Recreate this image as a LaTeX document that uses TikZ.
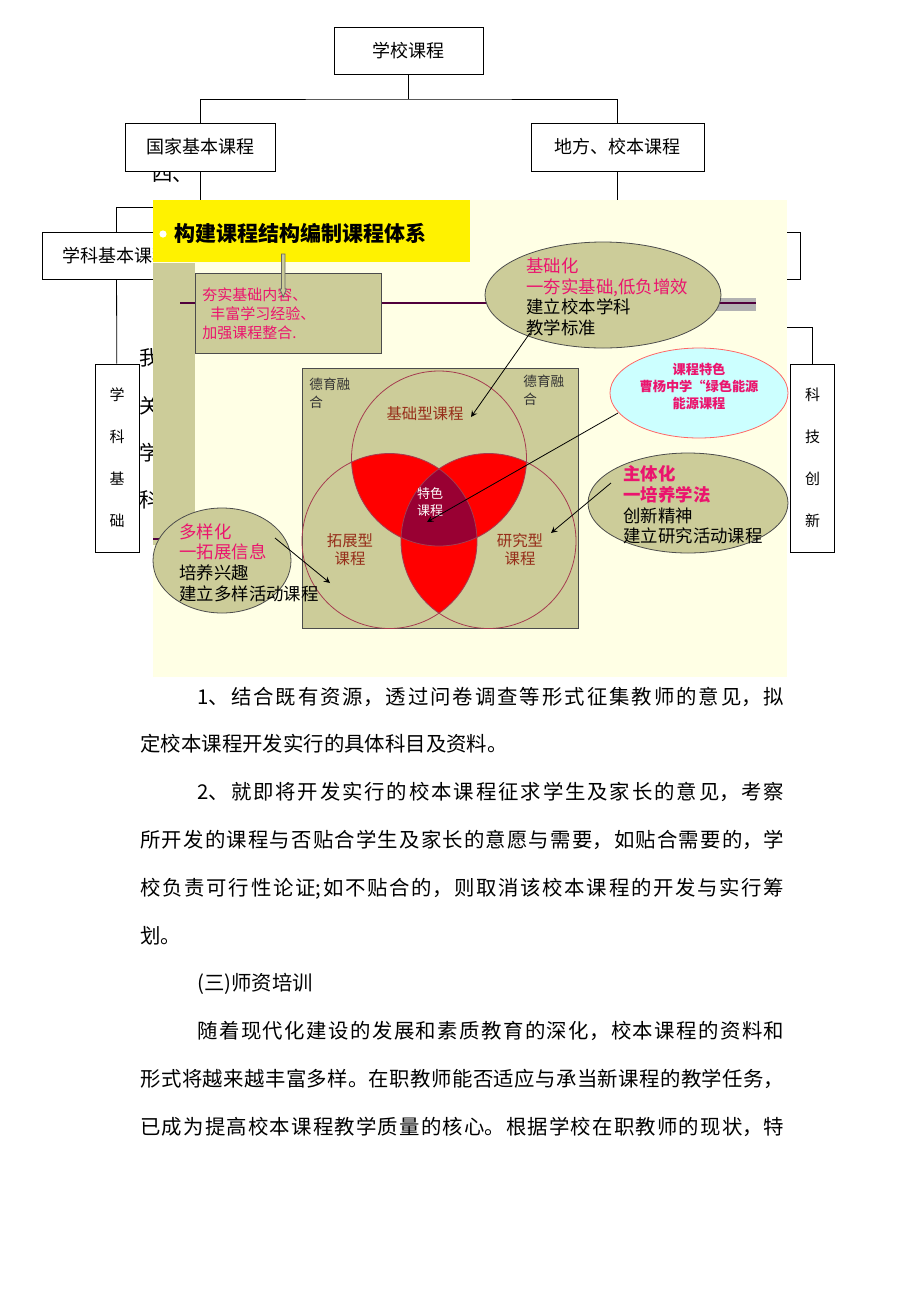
\documentclass[tikz,border=0pt]{standalone}
\usepackage{fontspec}
\setmainfont{Noto Sans CJK SC}
\XeTeXlinebreaklocale "zh"
\XeTeXlinebreakskip=0pt plus 2pt
\tolerance=9999
\usetikzlibrary{shapes.geometric}

\definecolor{khaki}{RGB}{204,204,153}
\definecolor{slidebg}{RGB}{255,255,229}
\definecolor{hotpink}{RGB}{235,20,110}
\definecolor{vennlabel}{RGB}{150,45,25}
\definecolor{ringred}{RGB}{165,60,80}
\definecolor{corered}{RGB}{153,0,51}
\definecolor{linkpurple}{RGB}{80,0,60}
\definecolor{paleblue}{RGB}{204,255,255}

\tikzset{
  treebox/.style={draw, fill=white, inner sep=0pt, font=\fontsize{9pt}{11pt}\selectfont},
  vbox/.style={draw, fill=white, inner sep=0pt, minimum width=22pt, minimum height=94pt,
    align=center, font=\fontsize{7.5pt}{21pt}\selectfont},
  bubble/.style={ellipse, draw=black!70, fill=khaki, inner sep=0pt},
  bubbletext/.style={anchor=west, inner sep=0pt, align=left, font=\fontsize{8.7pt}{10.35pt}\selectfont},
  venntext/.style={inner sep=0pt, align=center, text=vennlabel, font=\fontsize{7.7pt}{9pt}\selectfont},
  fusetext/.style={anchor=west, inner sep=0pt, align=left, text=black!80, font=\fontsize{6.8pt}{9pt}\selectfont},
  pagetext/.style={anchor=west, inner sep=0pt, font=\fontsize{10.2pt}{12pt}\selectfont},
  pointer/.style={->, >=stealth, thin},
  link/.style={linkpurple, line width=0.6pt},
}

\begin{document}
\begin{tikzpicture}[x=0.5pt, y=-0.5pt]
\useasboundingbox (0,0) rectangle (920,1302);

% page text left under the slide
\node[pagetext] (four) at (152,174) {四、};
\foreach \ch/\yy in {我/358, 关/406, 学/453, 科/500}
  \node[pagetext] (hid\yy) at (139,\yy) {\ch};

% course tree
\node[treebox, minimum width=74.5pt, minimum height=23.5pt] (school) at (408.5,50.5) {学校课程};
\node[treebox, minimum width=75pt, minimum height=24pt] (nation) at (200,147) {国家基本课程};
\node[treebox, minimum width=86.5pt, minimum height=24pt] (local) at (617.5,147) {地方、校本课程};
\node[treebox, minimum width=74.5pt, minimum height=23.5pt] (subject) at (116.5,255.5) {学科基本课程};
\node[treebox, minimum width=75pt, minimum height=23.5pt] (rightbox) at (725,255.5) {};
\node[vbox] (basis) at (117,458) {学\\科\\基\\础};
\node[vbox] (tech) at (812.5,458) {科\\技\\创\\新};

\coordinate (fork) at (408.5,99);
\coordinate (lfork) at (200,207);
\coordinate (rfork) at (617.5,207);
\coordinate (rknee) at (725,327);
\draw (school) -- (fork);
\draw (nation.north) |- (fork) -| (local.north);
\draw (nation.south) -- (lfork) -| (subject.north);
\draw (subject) -- (basis);
\draw (local.south) -- (rfork) -| (rightbox.north);
\draw (rightbox.south) -- (rknee) -| (tech.north);

% the slide
\fill[slidebg] (153,200) rectangle (787,677);
\fill[yellow] (153,200) rectangle (470,262);
\fill[khaki] (153,263) rectangle (195,545);
\fill[white] (163,234) circle (1.8pt);
\node[anchor=west, inner sep=0, font=\bfseries\fontsize{10.5pt}{12pt}\selectfont] (title) at (174,233) {构建课程结构编制课程体系};

\draw[link] (180,303) -- (196,303);
\draw[link] (380,303) -- (495,303);
\draw[link] (153,539) -- (175,539);
\fill[black!30] (700,298) rectangle (756,311);
\draw[link] (700,303) -- (756,303);

\node[draw=black!70, fill=khaki, minimum width=93pt, minimum height=40pt, inner sep=0] (basebox) at (288,313) {};
\node[anchor=west, inner sep=0, align=left, text=hotpink, font=\fontsize{7.5pt}{9.5pt}\selectfont] (basetext) at (202,314)
  {夯实基础内容、\\\hspace*{4pt}丰富学习经验、\\加强课程整合.};
\draw[draw=black!60, fill=khaki] (281.5,254) -- (281.5,289) -- (280,289) -- (283.2,297)
  -- (286.4,289) -- (285,289) -- (285,254) -- cycle;

\node[bubble, minimum width=118pt, minimum height=53pt] (basic) at (603,295) {};
\node[bubbletext] (basictext) at (526,297)
  {\textcolor{hotpink}{基础化}\\\textcolor{hotpink}{一夯实基础,低负增效}\\建立校本学科\\教学标准};

\node[ellipse, draw=red!60, fill=paleblue, minimum width=89pt, minimum height=45pt, inner sep=0] (trait) at (699,393) {};
\node[inner sep=0, align=center, text=hotpink, font=\bfseries\fontsize{6.6pt}{8.5pt}\selectfont] (traittext) at (699,386)
  {课程特色\\曹杨中学“绿色能源\\能源课程};

\node[bubble, minimum width=100pt, minimum height=50pt] (active) at (688,503) {};
\node[bubbletext] (activetext) at (623,505)
  {\textcolor{hotpink}{\bfseries 主体化}\\\textcolor{hotpink}{\bfseries 一培养学法}\\创新精神\\建立研究活动课程};

% venn of the three course kinds
\node[draw=black!70, fill=khaki, minimum width=138pt, minimum height=130pt, inner sep=0] (venn) at (440,498) {};
\coordinate (ctop) at (439,458.5);
\coordinate (cleft) at (389.5,541);
\coordinate (cright) at (488.5,541);
\begin{scope}
  \clip (ctop) circle (43.75pt);
  \fill[red] (cleft) circle (43.75pt);
  \fill[red] (cright) circle (43.75pt);
\end{scope}
\begin{scope}
  \clip (cleft) circle (43.75pt);
  \fill[red] (cright) circle (43.75pt);
\end{scope}
\begin{scope}
  \clip (ctop) circle (43.75pt);
  \clip (cleft) circle (43.75pt);
  \fill[corered] (cright) circle (43.75pt);
\end{scope}
\foreach \c in {ctop, cleft, cright}
  \draw[ringred, thin] (\c) circle (43.75pt);

\node[fusetext] (fuseleft) at (309,393) {德育融\\合};
\node[fusetext] (fuseright) at (523,390) {德育融\\合};
\node[venntext] (basictype) at (425,414) {基础型课程};
\node[venntext] (expandtype) at (350,550) {拓展型\\课程};
\node[venntext] (researchtype) at (520,550) {研究型\\课程};
\node[venntext, text=white, font=\fontsize{6.5pt}{8.5pt}\selectfont] (core) at (430,502.5) {特色\\课程};

\node[bubble, minimum width=69pt, minimum height=52.5pt] (diverse) at (222,560.5) {};
\node[bubbletext] (diversetext) at (179,562.5)
  {\textcolor{hotpink}{多样化}\\\textcolor{hotpink}{一拓展信息}\\培养兴趣\\建立多样活动课程};

\coordinate (basictail) at (530,333);
\coordinate (basichead) at (471,417);
\coordinate (traittail) at (618,413);
\coordinate (traithead) at (427,522);
\coordinate (activetail) at (611,483);
\coordinate (activehead) at (551,533);
\coordinate (diversetail) at (275,538);
\coordinate (diversehead) at (330,583);
\draw[pointer] (basictail) -- (basichead);
\draw[pointer] (traittail) -- (traithead);
\draw[pointer] (activetail) -- (activehead);
\draw[pointer] (diversetail) -- (diversehead);

% page text below the slide
\node[anchor=base west, inner sep=0, text width=322pt, align=justify,
  font=\fontsize{10.2pt}{23.9pt}\selectfont] (body) at (140,704)
  {\hspace*{28.5pt}1、结合既有资源，透过问卷调查等形式征集教师的意见，拟\linebreak
   定校本课程开发实行的具体科目及资料。\par
   \hspace*{28.5pt}2、就即将开发实行的校本课程征求学生及家长的意见，考察\linebreak
   所开发的课程与否贴合学生及家长的意愿与需要，如贴合需要的，学\linebreak
   校负责可行性论证;如不贴合的，则取消该校本课程的开发与实行筹\linebreak
   划。\par
   \hspace*{28.5pt}(三)师资培训\par
   \hspace*{28.5pt}随着现代化建设的发展和素质教育的深化，校本课程的资料和\linebreak
   形式将越来越丰富多样。在职教师能否适应与承当新课程的教学任务，\linebreak
   已成为提高校本课程教学质量的核心。根据学校在职教师的现状，特{\parfillskip=0pt\par}};
\end{tikzpicture}
\end{document}
